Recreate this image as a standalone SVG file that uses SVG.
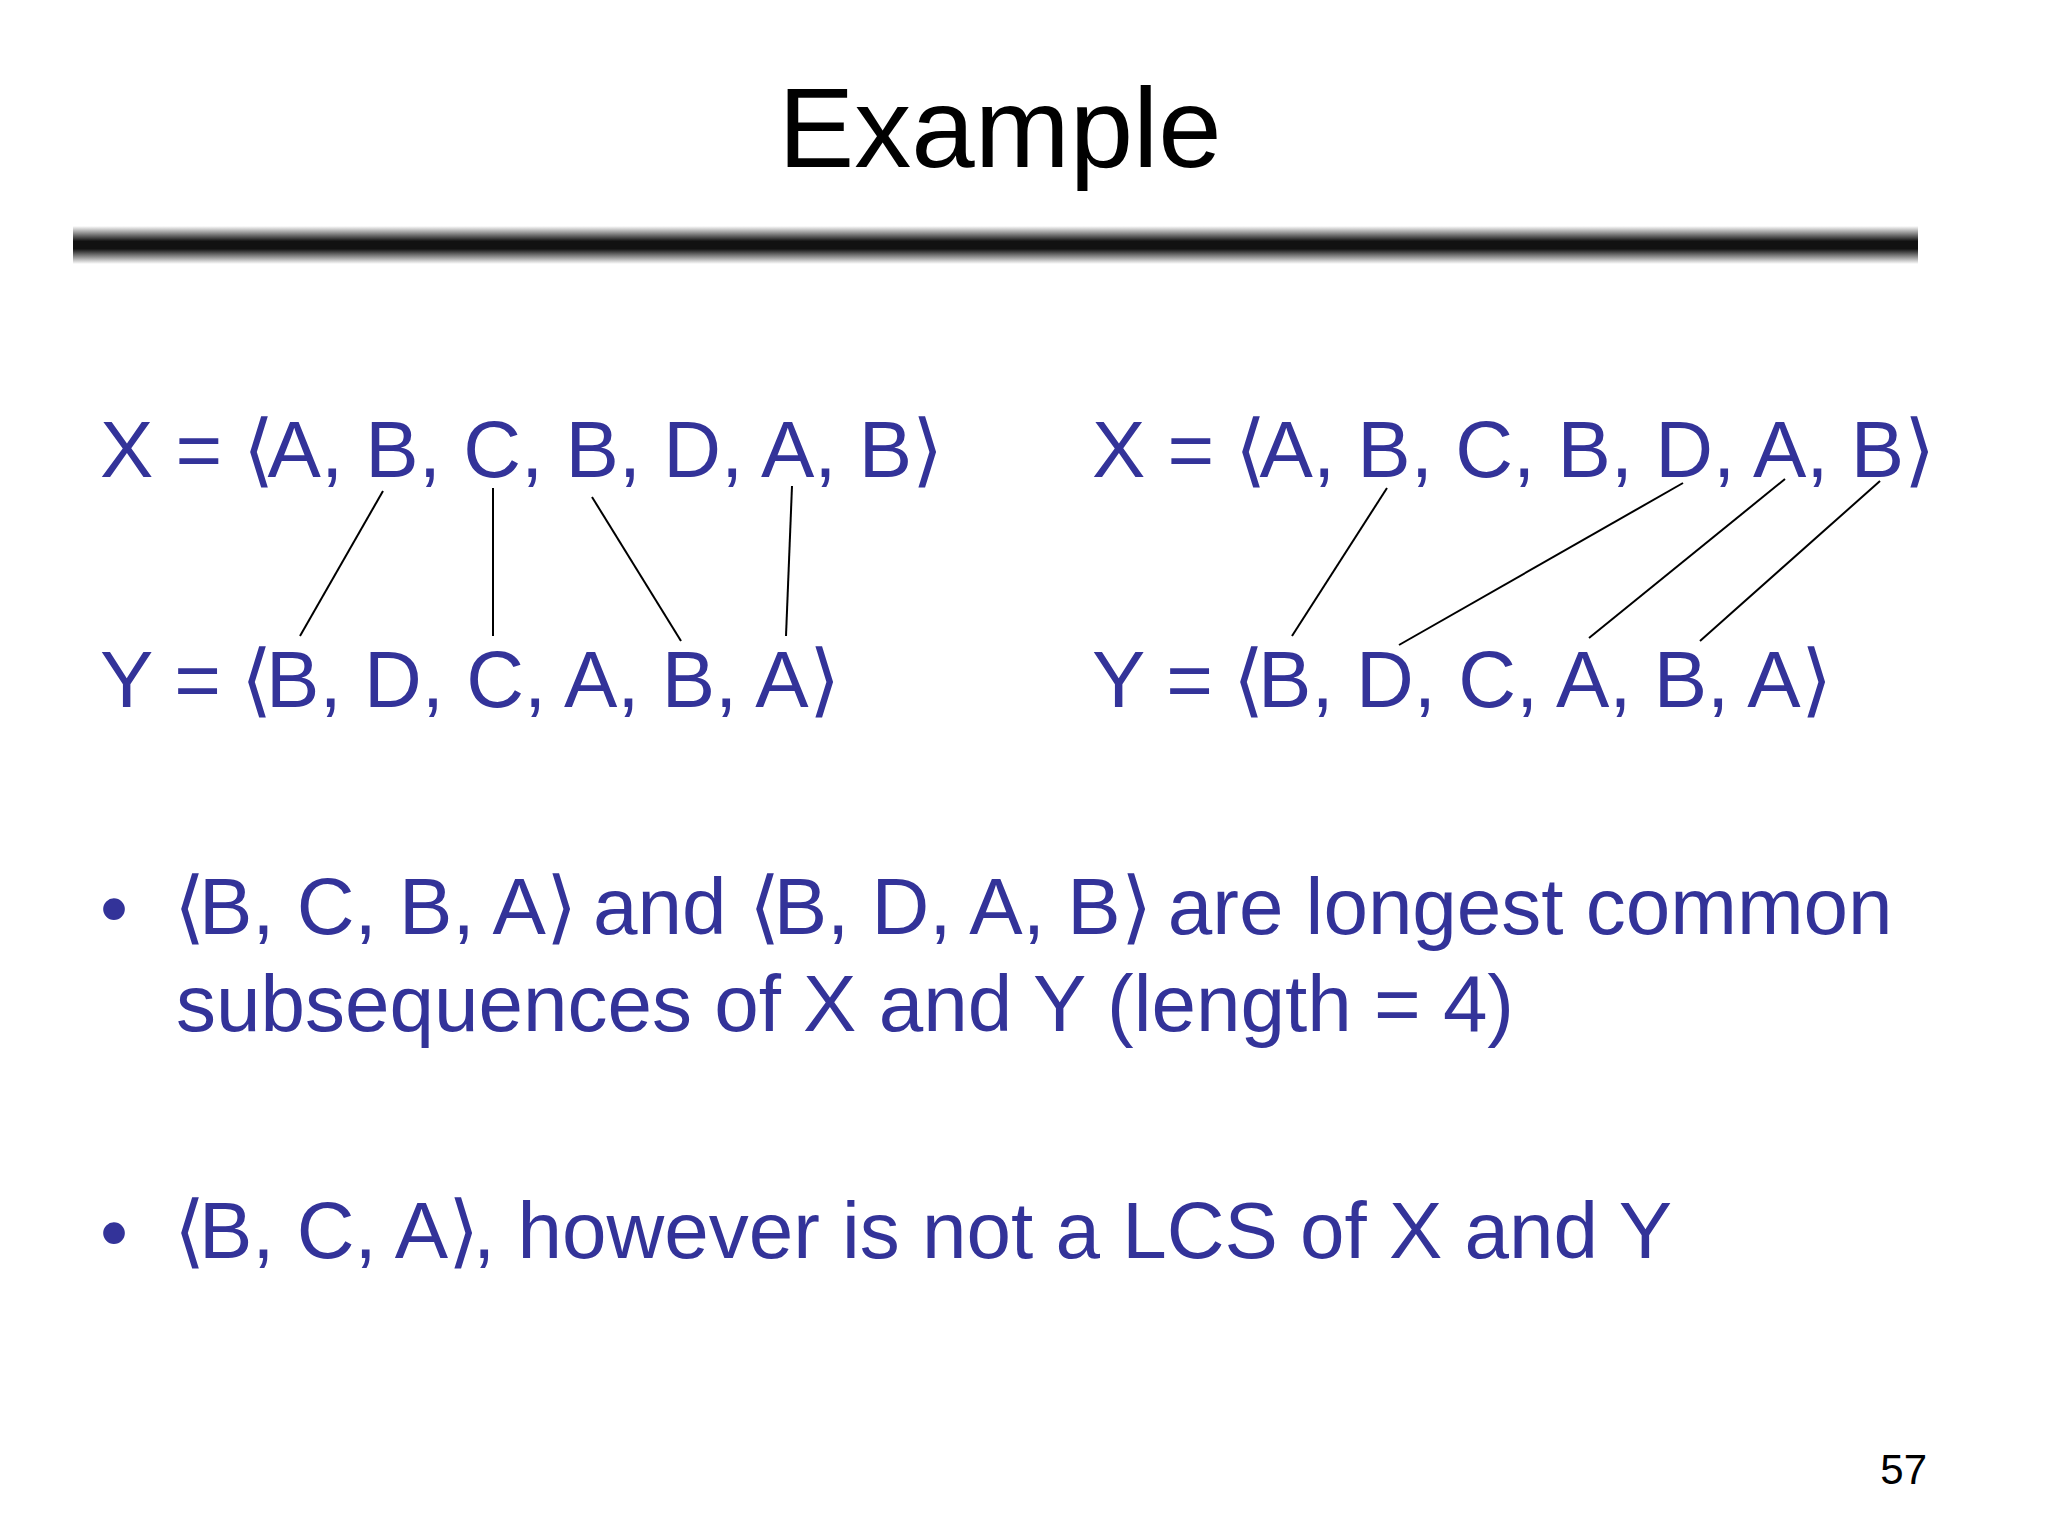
<svg xmlns="http://www.w3.org/2000/svg" width="2048" height="1536" viewBox="0 0 2048 1536">
<style>
.t{font-family:"Liberation Sans",Arial,sans-serif;fill:#333399;font-size:80px}
.br{font-family:"DejaVu Sans","Liberation Sans",sans-serif;font-weight:200;letter-spacing:-6px}
.title{font-family:"Liberation Sans",Arial,sans-serif;fill:#000;font-size:114px}
.num{font-family:"Liberation Sans",Arial,sans-serif;fill:#000;font-size:42px}
.ln{stroke:#000;stroke-width:2;fill:none}
</style>
<defs>
<linearGradient id="rule" x1="0" y1="0" x2="0" y2="1">
<stop offset="0" stop-color="#fff"/>
<stop offset="0.4" stop-color="#111"/>
<stop offset="0.6" stop-color="#111"/>
<stop offset="1" stop-color="#fff"/>
</linearGradient>
</defs>
<rect width="2048" height="1536" fill="#fff"/>
<g id="title">
<text class="title" x="1000" y="167" text-anchor="middle">Example</text>
<rect x="73" y="226" width="1845" height="38" fill="url(#rule)"/>
</g>
<g id="leftX"><text class="t" x="100" y="477">X = <tspan class="br" dx="-2">⟨</tspan>A, B, C, B, D, A, B<tspan class="br">⟩</tspan></text></g>
<g id="leftY"><text class="t" x="100" y="707">Y = <tspan class="br" dx="-2">⟨</tspan>B, D, C, A, B, A<tspan class="br">⟩</tspan></text></g>
<g id="rightX"><text class="t" x="1092" y="477">X = <tspan class="br" dx="-2">⟨</tspan>A, B, C, B, D, A, B<tspan class="br">⟩</tspan></text></g>
<g id="rightY"><text class="t" x="1092" y="707">Y = <tspan class="br" dx="-2">⟨</tspan>B, D, C, A, B, A<tspan class="br">⟩</tspan></text></g>
<g id="connectors">
<line class="ln" x1="383" y1="491" x2="300" y2="636"/>
<line class="ln" x1="493" y1="488" x2="493" y2="636"/>
<line class="ln" x1="592" y1="497" x2="681" y2="641"/>
<line class="ln" x1="792" y1="486" x2="786" y2="636"/>
<line class="ln" x1="1387" y1="488" x2="1292" y2="636"/>
<line class="ln" x1="1683" y1="483" x2="1399" y2="645"/>
<line class="ln" x1="1785" y1="479" x2="1589" y2="638"/>
<line class="ln" x1="1880" y1="481" x2="1700" y2="641"/>
</g>
<g id="bullet1">
<text class="t" x="100" y="936">•</text>
<text class="t" x="174" y="934"><tspan class="br">⟨</tspan>B, C, B, A<tspan class="br">⟩</tspan> and <tspan class="br">⟨</tspan>B, D, A, B<tspan class="br">⟩</tspan> are longest common</text>
<text class="t" x="176" y="1031">subsequences of X and Y (length = 4)</text>
</g>
<g id="bullet2">
<text class="t" x="100" y="1260">•</text>
<text class="t" x="174" y="1258"><tspan class="br">⟨</tspan>B, C, A<tspan class="br">⟩</tspan>, however is not a LCS of X and Y</text>
</g>
<text class="num" x="1927" y="1484" text-anchor="end">57</text>
</svg>
